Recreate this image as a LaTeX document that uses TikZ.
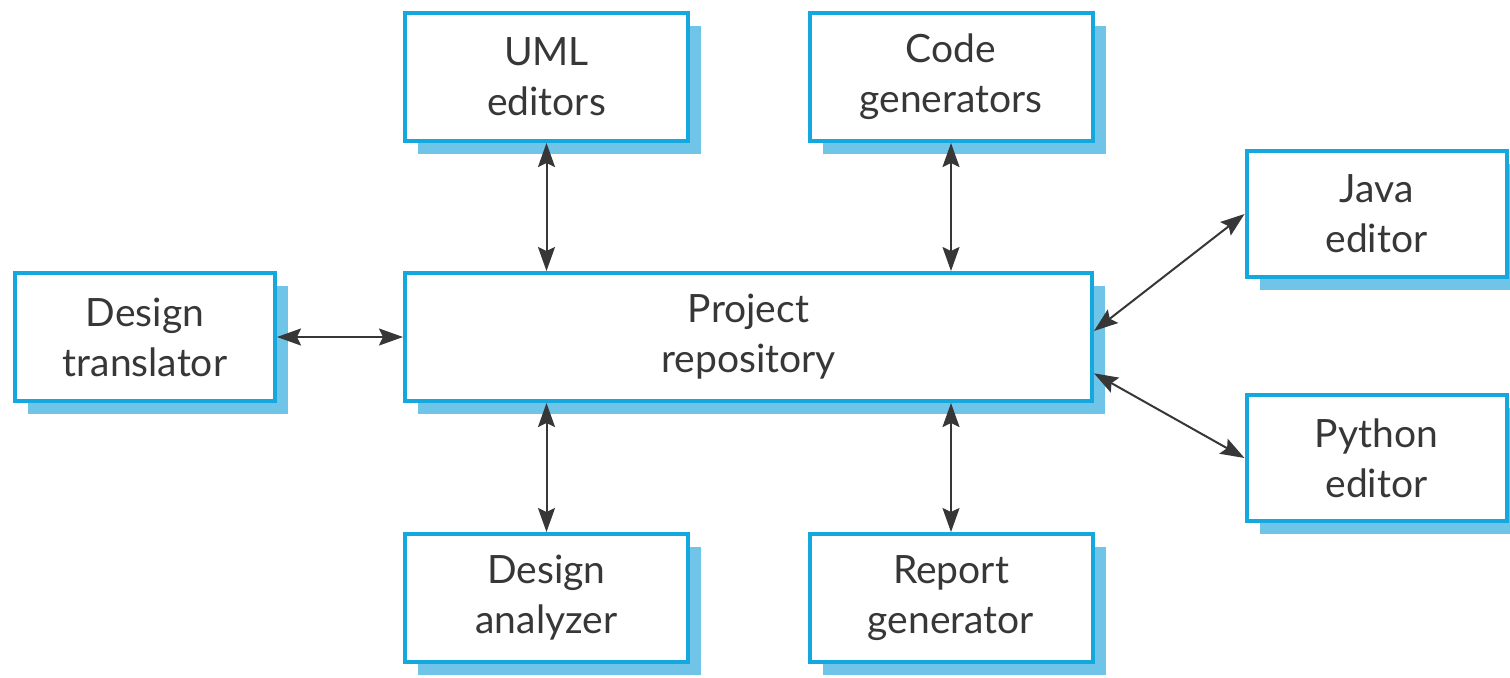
\documentclass[tikz,border=0pt]{standalone}
\usepackage{fontspec}
\setmainfont{Lato}
\usetikzlibrary{arrows.meta,shadows}
\definecolor{boxblue}{RGB}{20,168,222}
\definecolor{shadeblue}{RGB}{112,196,232}
\definecolor{inkgray}{RGB}{55,55,55}
\tikzset{every picture/.style={line width=0.75pt}}
\tikzset{
  tool/.style={draw=boxblue, line width=2pt, fill=white, align=center, inner sep=0pt,
    font=\fontsize{19.5}{25}\selectfont, text=inkgray,
    drop shadow={shadow xshift=6.5pt, shadow yshift=-6.5pt, fill=shadeblue, opacity=1}},
  link/.style={draw=inkgray, line width=1pt,
    {Stealth[length=12pt,width=8.5pt,inset=2pt]}-{Stealth[length=12pt,width=8.5pt,inset=2pt]}}
}

\begin{document}
\begin{tikzpicture}[x=0.5pt,y=0.5pt,yscale=-1,xscale=1]
\useasboundingbox (0,0) rectangle (1510,677);

%Shape: Rectangle [tools above]
\node[tool, minimum width=141.5pt, minimum height=64pt] (uml) at (546.5,77) {UML\\editors};
\node[tool, minimum width=141.5pt, minimum height=64pt] (codegen) at (951,77) {Code\\generators};
%Shape: Rectangle [middle row]
\node[tool, minimum width=130pt, minimum height=64pt] (translator) at (145,337) {Design\\translator};
\node[tool, minimum width=343.5pt, minimum height=64pt] (repo) at (748.5,337) {Project\\repository};
%Shape: Rectangle [editors]
\node[tool, minimum width=130pt, minimum height=63pt] (java) at (1376.5,214) {Java\\editor};
\node[tool, minimum width=130pt, minimum height=63pt] (python) at (1376.5,458) {Python\\editor};
%Shape: Rectangle [tools below]
\node[tool, minimum width=141.5pt, minimum height=64pt] (analyzer) at (546.5,598) {Design\\analyzer};
\node[tool, minimum width=141.5pt, minimum height=64pt] (reportgen) at (951,598) {Report\\generator};

% Connectors
\draw[link] (uml.south) -- (uml.south |- repo.north);
\draw[link] (codegen.south) -- (codegen.south |- repo.north);
\draw[link] (translator) -- (repo);
\draw[link] (analyzer.north) -- (analyzer.north |- repo.south);
\draw[link] (reportgen.north) -- (reportgen.north |- repo.south);
\draw[link] (repo.1) -- (java.west);
\draw[link] (repo.-6) -- (python.west);

\end{tikzpicture}
\end{document}
